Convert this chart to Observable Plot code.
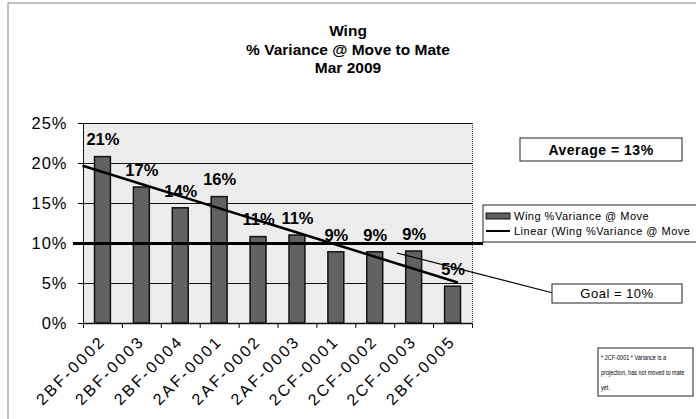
<!DOCTYPE html>
<html>
<head>
<meta charset="utf-8">
<script src="https://cdn.jsdelivr.net/npm/d3@7"></script>
<script src="https://cdn.jsdelivr.net/npm/@observablehq/plot@0.6"></script>
<style>
  html, body { margin: 0; padding: 0; background: #fff; }
  #chart { width: 696px; height: 419px; overflow: hidden; }
  svg { font-family: "Liberation Sans", Arial, sans-serif; }
  .xlab text { letter-spacing: 2.5px; }
  .ylab text { letter-spacing: 1px; }
</style>
</head>
<body>
<div id="chart"></div>
<script>
// ---- data ----
const categories = ["2BF-0002","2BF-0003","2BF-0004","2AF-0001","2AF-0002","2AF-0003","2CF-0001","2CF-0002","2CF-0003","2BF-0005"];
const variance = [0.208, 0.170, 0.144, 0.158, 0.108, 0.110, 0.089, 0.089, 0.090, 0.046];
const yTicks = [0, 0.05, 0.10, 0.15, 0.20, 0.25];
const gridValues = [0.05, 0.15, 0.20, 0.25];
const goal = 0.10;
const titleLines = ["Wing", "% Variance @ Move to Mate", "Mar 2009"];
const averageText = "Average = 13%";
const goalText = "Goal = 10%";
const legendLabels = ["Wing %Variance @ Move", "Linear (Wing %Variance @ Move"];
const noteLines = ["* 2CF-0001 * Variance is a", "projection, has not moved to mate", "yet."];

const data = categories.map((c, k) => ({i: k + 1, cat: c, v: variance[k]}));
const pct = d3.format(".0%");

// linear trend (least squares, like Excel's trendline)
const mx = d3.mean(data, d => d.i), my = d3.mean(data, d => d.v);
const slope = d3.sum(data, d => (d.i - mx) * (d.v - my)) / d3.sum(data, d => (d.i - mx) ** 2);
const trendX = [0.5, 10.1];
const trend = trendX.map(x => ({x, y: my + slope * (x - mx)}));

const chart = Plot.plot({
  width: 696, height: 419,
  marginLeft: 83, marginRight: 224, marginTop: 123, marginBottom: 96,
  x: {domain: [0.5, categories.length + 0.5], axis: null},
  y: {domain: [0, 0.25], axis: null},
  style: {fontFamily: "'Liberation Sans', Arial, sans-serif", background: "#fff"},
  marks: [
    Plot.frame({fill: "#ececec", stroke: null}),
    Plot.ruleY(gridValues, {stroke: "#111", strokeWidth: 1}),
    Plot.rectY(data, {x1: d => d.i - 0.5, x2: d => d.i + 0.5, y: "v", insetLeft: 11.5, insetRight: 11.5,
      fill: "#626262", stroke: "#111", strokeWidth: 1.5}),
    Plot.ruleX([0.5], {stroke: "#111"}),
    Plot.ruleX([categories.length + 0.5], {stroke: "#444", strokeDasharray: "1,1"}),
    Plot.ruleY([0], {stroke: "#111", strokeWidth: 1.5}),
    Plot.ruleY([goal], {stroke: "#000", strokeWidth: 3, insetLeft: -10, insetRight: -11}),
    Plot.line(trend, {x: "x", y: "y", stroke: "#000", strokeWidth: 2.5}),
    Plot.text(data, {x: "i", y: "v", text: d => pct(d.v), dy: -17, fontSize: 16.5, fontWeight: "bold", fill: "#000"}),
    Plot.axisY({ticks: yTicks, tickFormat: pct, tickSize: 5, tickPadding: 11, fontSize: 16.5, color: "#000", className: "ylab"}),
    Plot.axisX({ticks: d3.range(0.5, categories.length + 1, 1), tickFormat: () => "", tickSize: 5, color: "#000"}),
    Plot.axisX({ticks: d3.range(1, categories.length + 1), tickFormat: i => categories[i - 1], tickSize: 0,
      tickRotate: -45, tickPadding: 15, fontSize: 16, color: "#000", className: "xlab"})
  ]
});

document.getElementById("chart").appendChild(chart);
const svg = d3.select(chart);
const xs = chart.scale("x"), ys = chart.scale("y");
const ann = svg.append("g").attr("text-anchor", "start").attr("font-size", 10);

// outer border
ann.append("rect").attr("x", 8).attr("y", 3).attr("width", 720).attr("height", 440)
  .attr("fill", "none").attr("stroke", "#888").attr("stroke-width", 1);

// title
const title = ann.append("text").attr("text-anchor", "middle").attr("font-weight", "bold")
  .attr("font-size", 15.5).attr("fill", "#000");
titleLines.forEach((t, k) => title.append("tspan").attr("x", 348).attr("y", 36 + k * 18.5).text(t));

// average box
ann.append("rect").attr("x", 520).attr("y", 138).attr("width", 162).attr("height", 23)
  .attr("fill", "#fff").attr("stroke", "#222");
ann.append("text").attr("x", 601).attr("y", 155).attr("text-anchor", "middle")
  .attr("font-weight", "bold").attr("font-size", 14).attr("letter-spacing", 0.5).text(averageText);

// legend box
ann.append("rect").attr("x", 483).attr("y", 205).attr("width", 230).attr("height", 37)
  .attr("fill", "#fff").attr("stroke", "#222");
ann.append("rect").attr("x", 486).attr("y", 213).attr("width", 24).attr("height", 6)
  .attr("fill", "#626262").attr("stroke", "#111");
ann.append("text").attr("x", 514).attr("y", 220).attr("font-size", 11).attr("letter-spacing", 0.5).text(legendLabels[0]);
ann.append("line").attr("x1", 486).attr("x2", 510).attr("y1", 231).attr("y2", 231)
  .attr("stroke", "#000").attr("stroke-width", 2);
ann.append("text").attr("x", 514).attr("y", 235).attr("font-size", 11).attr("letter-spacing", 0.5).text(legendLabels[1]);

// goal callout
ann.append("line").attr("x1", xs.apply(8.57)).attr("y1", ys.apply(0.0875)).attr("x2", 553).attr("y2", 293)
  .attr("stroke", "#000").attr("stroke-width", 1.2);
ann.append("rect").attr("x", 552).attr("y", 284).attr("width", 130).attr("height", 19)
  .attr("fill", "#fff").attr("stroke", "#222");
ann.append("text").attr("x", 617).attr("y", 298).attr("text-anchor", "middle")
  .attr("font-size", 13).attr("letter-spacing", 0.5).text(goalText);

// note box
ann.append("rect").attr("x", 598).attr("y", 348).attr("width", 95).attr("height", 48)
  .attr("fill", "#fff").attr("stroke", "#222");
const noteG = ann.append("g").attr("transform", "translate(601,0) scale(0.78,1)");
noteLines.forEach((t, k) => {
  noteG.append("text").attr("x", 0).attr("y", 360 + k * 15)
    .attr("font-size", 7.1).attr("fill", "#000").text(t);
});
</script>
</body>
</html>
